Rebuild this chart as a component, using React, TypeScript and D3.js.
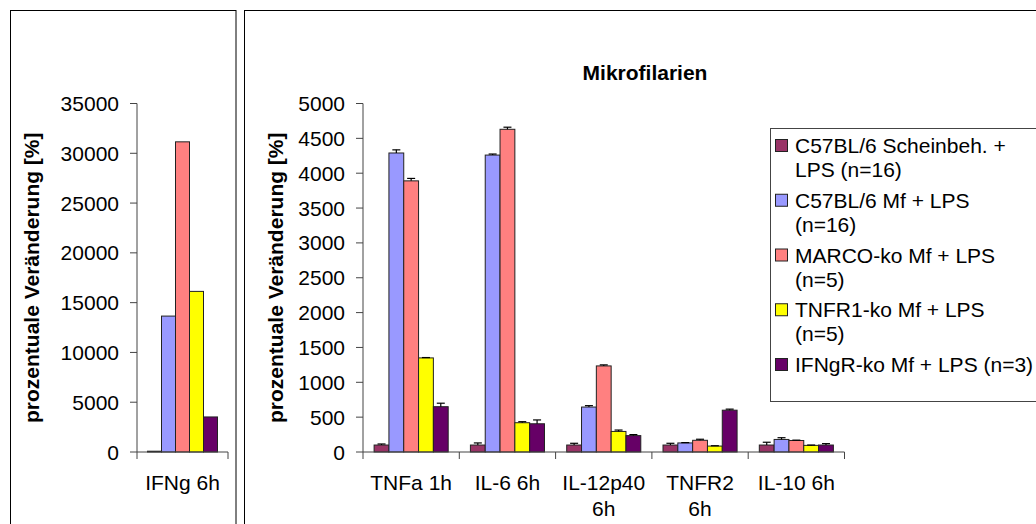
import React from "react";
import * as d3 from "d3";

const series = [
  "C57BL/6 Scheinbeh. + LPS (n=16)",
  "C57BL/6 Mf + LPS (n=16)",
  "MARCO-ko Mf + LPS (n=5)",
  "TNFR1-ko Mf + LPS (n=5)",
  "IFNgR-ko Mf + LPS (n=3)",
];
const legendLines = [
  ["C57BL/6 Scheinbeh. +", "LPS (n=16)"],
  ["C57BL/6 Mf + LPS", "(n=16)"],
  ["MARCO-ko Mf + LPS", "(n=5)"],
  ["TNFR1-ko Mf + LPS", "(n=5)"],
  ["IFNgR-ko Mf + LPS (n=3)"],
];
const colors = ["#993366", "#9999FF", "#FF8080", "#FFFF00", "#660066"];

const leftCategories = ["IFNg 6h"];
const leftValues = [[80], [13650], [31150], [16130], [3520]];

const rightCategories = ["TNFa 1h", "IL-6 6h", "IL-12p40 6h", "TNFR2 6h", "IL-10 6h"];
const rightLabels = [["TNFa 1h"], ["IL-6 6h"], ["IL-12p40", "6h"], ["TNFR2", "6h"], ["IL-10 6h"]];
const rightValues = [
  [100, 100, 100, 100, 100],
  [4290, 4260, 645, 130, 180],
  [3890, 4630, 1235, 168, 165],
  [1350, 420, 295, 85, 95],
  [650, 405, 235, 600, 100],
];
const rightErrors = [
  [15, 30, 25, 25, 40],
  [45, 15, 20, 5, 25],
  [35, 30, 15, 15, 5],
  [5, 15, 20, 5, 5],
  [50, 55, 15, 15, 20],
];

const leftTicks = [0, 5000, 10000, 15000, 20000, 25000, 30000, 35000];
const rightTicks = [0, 500, 1000, 1500, 2000, 2500, 3000, 3500, 4000, 4500, 5000];

const FONT = "'Liberation Sans', Arial, sans-serif";
const FS = 21;

function Panel({
  x0, x1, yMax, ticks, categories, labels, values, errors, titleX,
}: {
  x0: number; x1: number; yMax: number; ticks: number[]; categories: string[];
  labels: string[][]; values: number[][]; errors?: number[][]; titleX: number;
}) {
  const yTop = 103.5, yBot = 452;
  const x = d3.scaleBand<string>().domain(categories).range([x0, x1]).padding(0);
  const inner = d3.scaleBand<string>().domain(series).range([0, x.bandwidth()]).paddingInner(0).paddingOuter(0.75);
  const y = d3.scaleLinear().domain([0, yMax]).range([yBot, yTop]);
  const bw = inner.bandwidth();
  const axisColor = "#444";
  return (
    <g>
      {series.map((s, si) =>
        categories.map((c, ci) => {
          const v = values[si][ci];
          const bx = (x(c) as number) + (inner(s) as number);
          const e = errors ? errors[si][ci] : 0;
          return (
            <g key={s + c}>
              <rect x={bx} y={y(v)} width={bw} height={yBot - y(v)} fill={colors[si]} stroke="#222" strokeWidth={1} />
              {errors && e > 0 && (
                <g stroke="#000" strokeWidth={1.2}>
                  <line x1={bx + bw / 2} x2={bx + bw / 2} y1={y(v)} y2={y(v + e)} />
                  <line x1={bx + bw / 2 - 4} x2={bx + bw / 2 + 4} y1={y(v + e)} y2={y(v + e)} />
                </g>
              )}
            </g>
          );
        })
      )}
      <line x1={x0} x2={x0} y1={yTop} y2={yBot} stroke={axisColor} strokeWidth={1} />
      {ticks.map((t) => (
        <g key={t}>
          <line x1={x0 - 7} x2={x0} y1={y(t)} y2={y(t)} stroke={axisColor} strokeWidth={1} />
          <text x={x0 - 18} y={y(t) + 7.5} textAnchor="end" fontFamily={FONT} fontSize={FS} fill="#000">{t}</text>
        </g>
      ))}
      <line x1={x0} x2={x1} y1={yBot} y2={yBot} stroke={axisColor} strokeWidth={1} />
      {[...categories.map((c) => x(c) as number), x1].map((tx, i) => (
        <line key={i} x1={tx} x2={tx} y1={yBot} y2={yBot + 7} stroke={axisColor} strokeWidth={1} />
      ))}
      {categories.map((c, ci) => (
        <text key={c} x={(x(c) as number) + x.bandwidth() / 2} y={490} textAnchor="middle" fontFamily={FONT} fontSize={FS} fill="#000">
          {labels[ci].map((l, li) => (
            <tspan key={li} x={(x(c) as number) + x.bandwidth() / 2} dy={li === 0 ? 0 : 26}>{l}</tspan>
          ))}
        </text>
      ))}
      <text transform={`translate(${titleX},${(yTop + yBot) / 2}) rotate(-90)`} textAnchor="middle" fontFamily={FONT} fontSize={FS} fontWeight="bold" fill="#000">
        prozentuale Veränderung [%]
      </text>
    </g>
  );
}

export default function App() {
  return (
    <svg width={1036} height={524} style={{ position: "absolute", left: 0, top: 0, background: "#fff" }}>
      <rect x={0} y={0} width={1036} height={524} fill="#fff" />
      <rect x={10.5} y={10.5} width={225.5} height={530} fill="none" stroke="#000" strokeWidth={1} />
      <rect x={244.5} y={10.5} width={820} height={530} fill="none" stroke="#000" strokeWidth={1} />
      <Panel x0={137} x1={228} yMax={35000} ticks={leftTicks} categories={leftCategories}
        labels={[["IFNg 6h"]]} values={leftValues} titleX={39} />
      <Panel x0={363} x1={844.5} yMax={5000} ticks={rightTicks} categories={rightCategories}
        labels={rightLabels} values={rightValues} errors={rightErrors} titleX={283} />
      <text x={645} y={80} textAnchor="middle" fontFamily={FONT} fontSize={FS} fontWeight="bold" fill="#000">Mikrofilarien</text>
      <rect x={770.5} y={128.5} width={300} height={273} fill="#fff" stroke="#444" strokeWidth={1} />
      {legendLines.map((lines, i) => {
        const base = 153 + i * 54.75;
        return (
          <g key={i}>
            <rect x={775.5} y={base - 13.5} width={12} height={12} fill={colors[i]} stroke="#222" strokeWidth={1} />
            <text x={795} y={base} fontFamily={FONT} fontSize={FS} fill="#000">
              {lines.map((l, li) => (
                <tspan key={li} x={795} dy={li === 0 ? 0 : 24}>{l}</tspan>
              ))}
            </text>
          </g>
        );
      })}
    </svg>
  );
}
